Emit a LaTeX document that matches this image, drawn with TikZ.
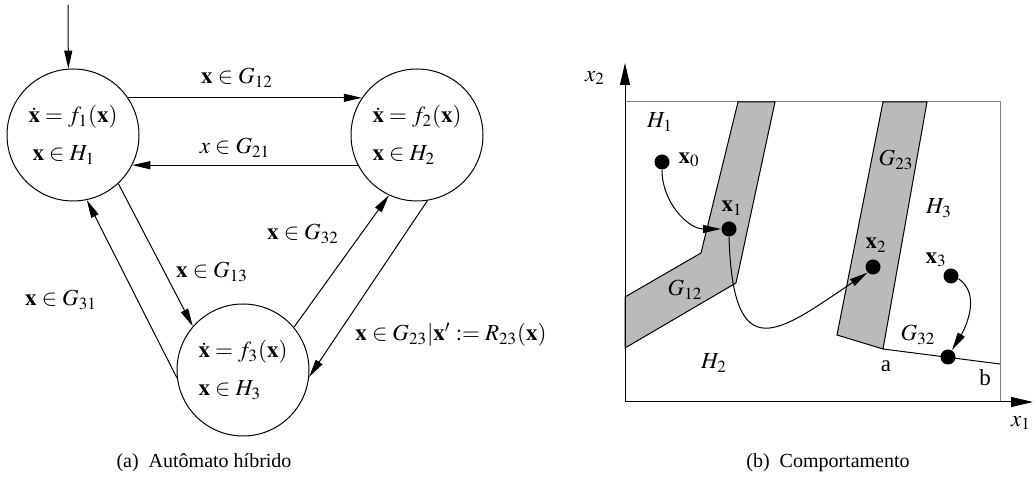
\documentclass[tikz,border=0pt]{standalone}
\usepackage{mathptmx}
\usepackage[no-math]{fontspec}
\setmainfont{Liberation Serif}
\usetikzlibrary{arrows.meta}
\definecolor{guardgray}{RGB}{186,186,186}
\tikzset{
	mode/.style={draw, circle, minimum size=66pt, inner sep=0pt, align=left},
	statedot/.style={circle, fill, minimum size=7.5pt, inner sep=0pt},
	trans/.style={-{Triangle[length=9pt,width=4pt]}},
	axis/.style={-{Triangle[length=11pt,width=5pt]}},
	guard/.style={draw, fill=guardgray, line join=miter},
	caption/.style={font=\fontsize{10pt}{12pt}\selectfont},
}
\begin{document}
\begin{tikzpicture}[x=0.5pt, y=0.5pt, line width=0.5pt, line join=round, font=\fontsize{11.5pt}{14pt}\selectfont]
	\useasboundingbox (0,0) rectangle (1034,481);
	% (a) automaton
	\node[mode] (c1) at (73,346) {$\dot{\mathbf{x}}=f_1(\mathbf{x})$\\[5pt]\hspace{2pt}$\mathbf{x}\in H_1$};
	\node[mode] (c2) at (417,346) {$\dot{\mathbf{x}}=f_2(\mathbf{x})$\\[5pt]$\mathbf{x}\in H_2$};
	\node[mode] (c3) at (243,111) {$\dot{\mathbf{x}}=f_3(\mathbf{x})$\\[5pt]$\mathbf{x}\in H_3$};
	\coordinate (init) at (68,476);
	\draw[trans] (init) -- (c1.94);
	\draw[trans] (c1.34) -- (c2.146);
	\draw[trans] (c2.207) -- (c1.333);
	\draw[trans] (c1.-47) -- (c3.139);
	\draw[trans] (c3.187) -- (c1.-78);
	\draw[trans] (c3.40) -- (c2.245);
	\draw[trans] (c2.-81) -- (c3.-6);
	\node (l12) at (237,403) {$\mathbf{x}\in G_{12}$};
	\node (l21) at (235,333) {$x\in G_{21}$};
	\node (l13) at (212,209) {$\mathbf{x}\in G_{13}$};
	\node (l31) at (61,181) {$\mathbf{x}\in G_{31}$};
	\node (l32) at (303,247) {$\mathbf{x}\in G_{32}$};
	\node (l23) at (451,146) {$\mathbf{x}\in G_{23}|\mathbf{x}'\mathrel{:=}R_{23}(\mathbf{x})$};
	\node[caption] (capa) at (204,18) {(a)\enspace Autômato híbrido};
	% (b) behaviour
	\coordinate (O) at (625,79);
	\coordinate (ytip) at (625,418);
	\coordinate (xtip) at (1033,79);
	\draw[gray] (O) rectangle (1000,379);
	\draw[guard] (738,379) -- (775,379) -- (736,198) -- (625,133) -- (625,184) -- (701,228) -- cycle;
	\draw[guard] (883,379) -- (927,379) -- (883,132) -- (837,146) -- cycle;
	\coordinate (a) at (883,132);
	\coordinate (b) at (1000,117);
	\draw (a) -- (b);
	\draw[axis] (O) -- (ytip);
	\draw[axis] (O) -- (xtip);
	\node (lx2) at (595,403) {$x_2$};
	\node (lx1) at (1021,58) {$x_1$};
	\node (la) at (886,115) {a};
	\node (lb) at (985,103) {b};
	\node (h1) at (660,359) {$H_1$};
	\node (h2) at (714,118) {$H_2$};
	\node (h3) at (939,273) {$H_3$};
	\node (g12) at (685,191) {$G_{12}$};
	\node (g23) at (896,321) {$G_{23}$};
	\node (g32) at (918,146) {$G_{32}$};
	\node[statedot] (x0) at (662,319) {};
	\node[statedot] (x1) at (729,252) {};
	\node[statedot] (x2) at (873,214) {};
	\node[statedot] (x3) at (951,205) {};
	\node[statedot] (xr) at (948,124) {};
	\node (lx0) at (689,321) {$\mathbf{x}_0$};
	\node (lxa) at (732,273) {$\mathbf{x}_1$};
	\node (lxb) at (876,236) {$\mathbf{x}_2$};
	\node (lxc) at (936,221) {$\mathbf{x}_3$};
	\draw[trans] (x0.south) to[out=-90,in=180] (x1.west);
	\draw[trans] (x1.south) .. controls (733,110) and (780,150) .. (x2.225);
	\draw[trans] (x3.-20) .. controls (981,187) and (966,154) .. (xr.60);
	\node[caption] (capb) at (828,18) {(b)\enspace Comportamento};
\end{tikzpicture}
\end{document}
